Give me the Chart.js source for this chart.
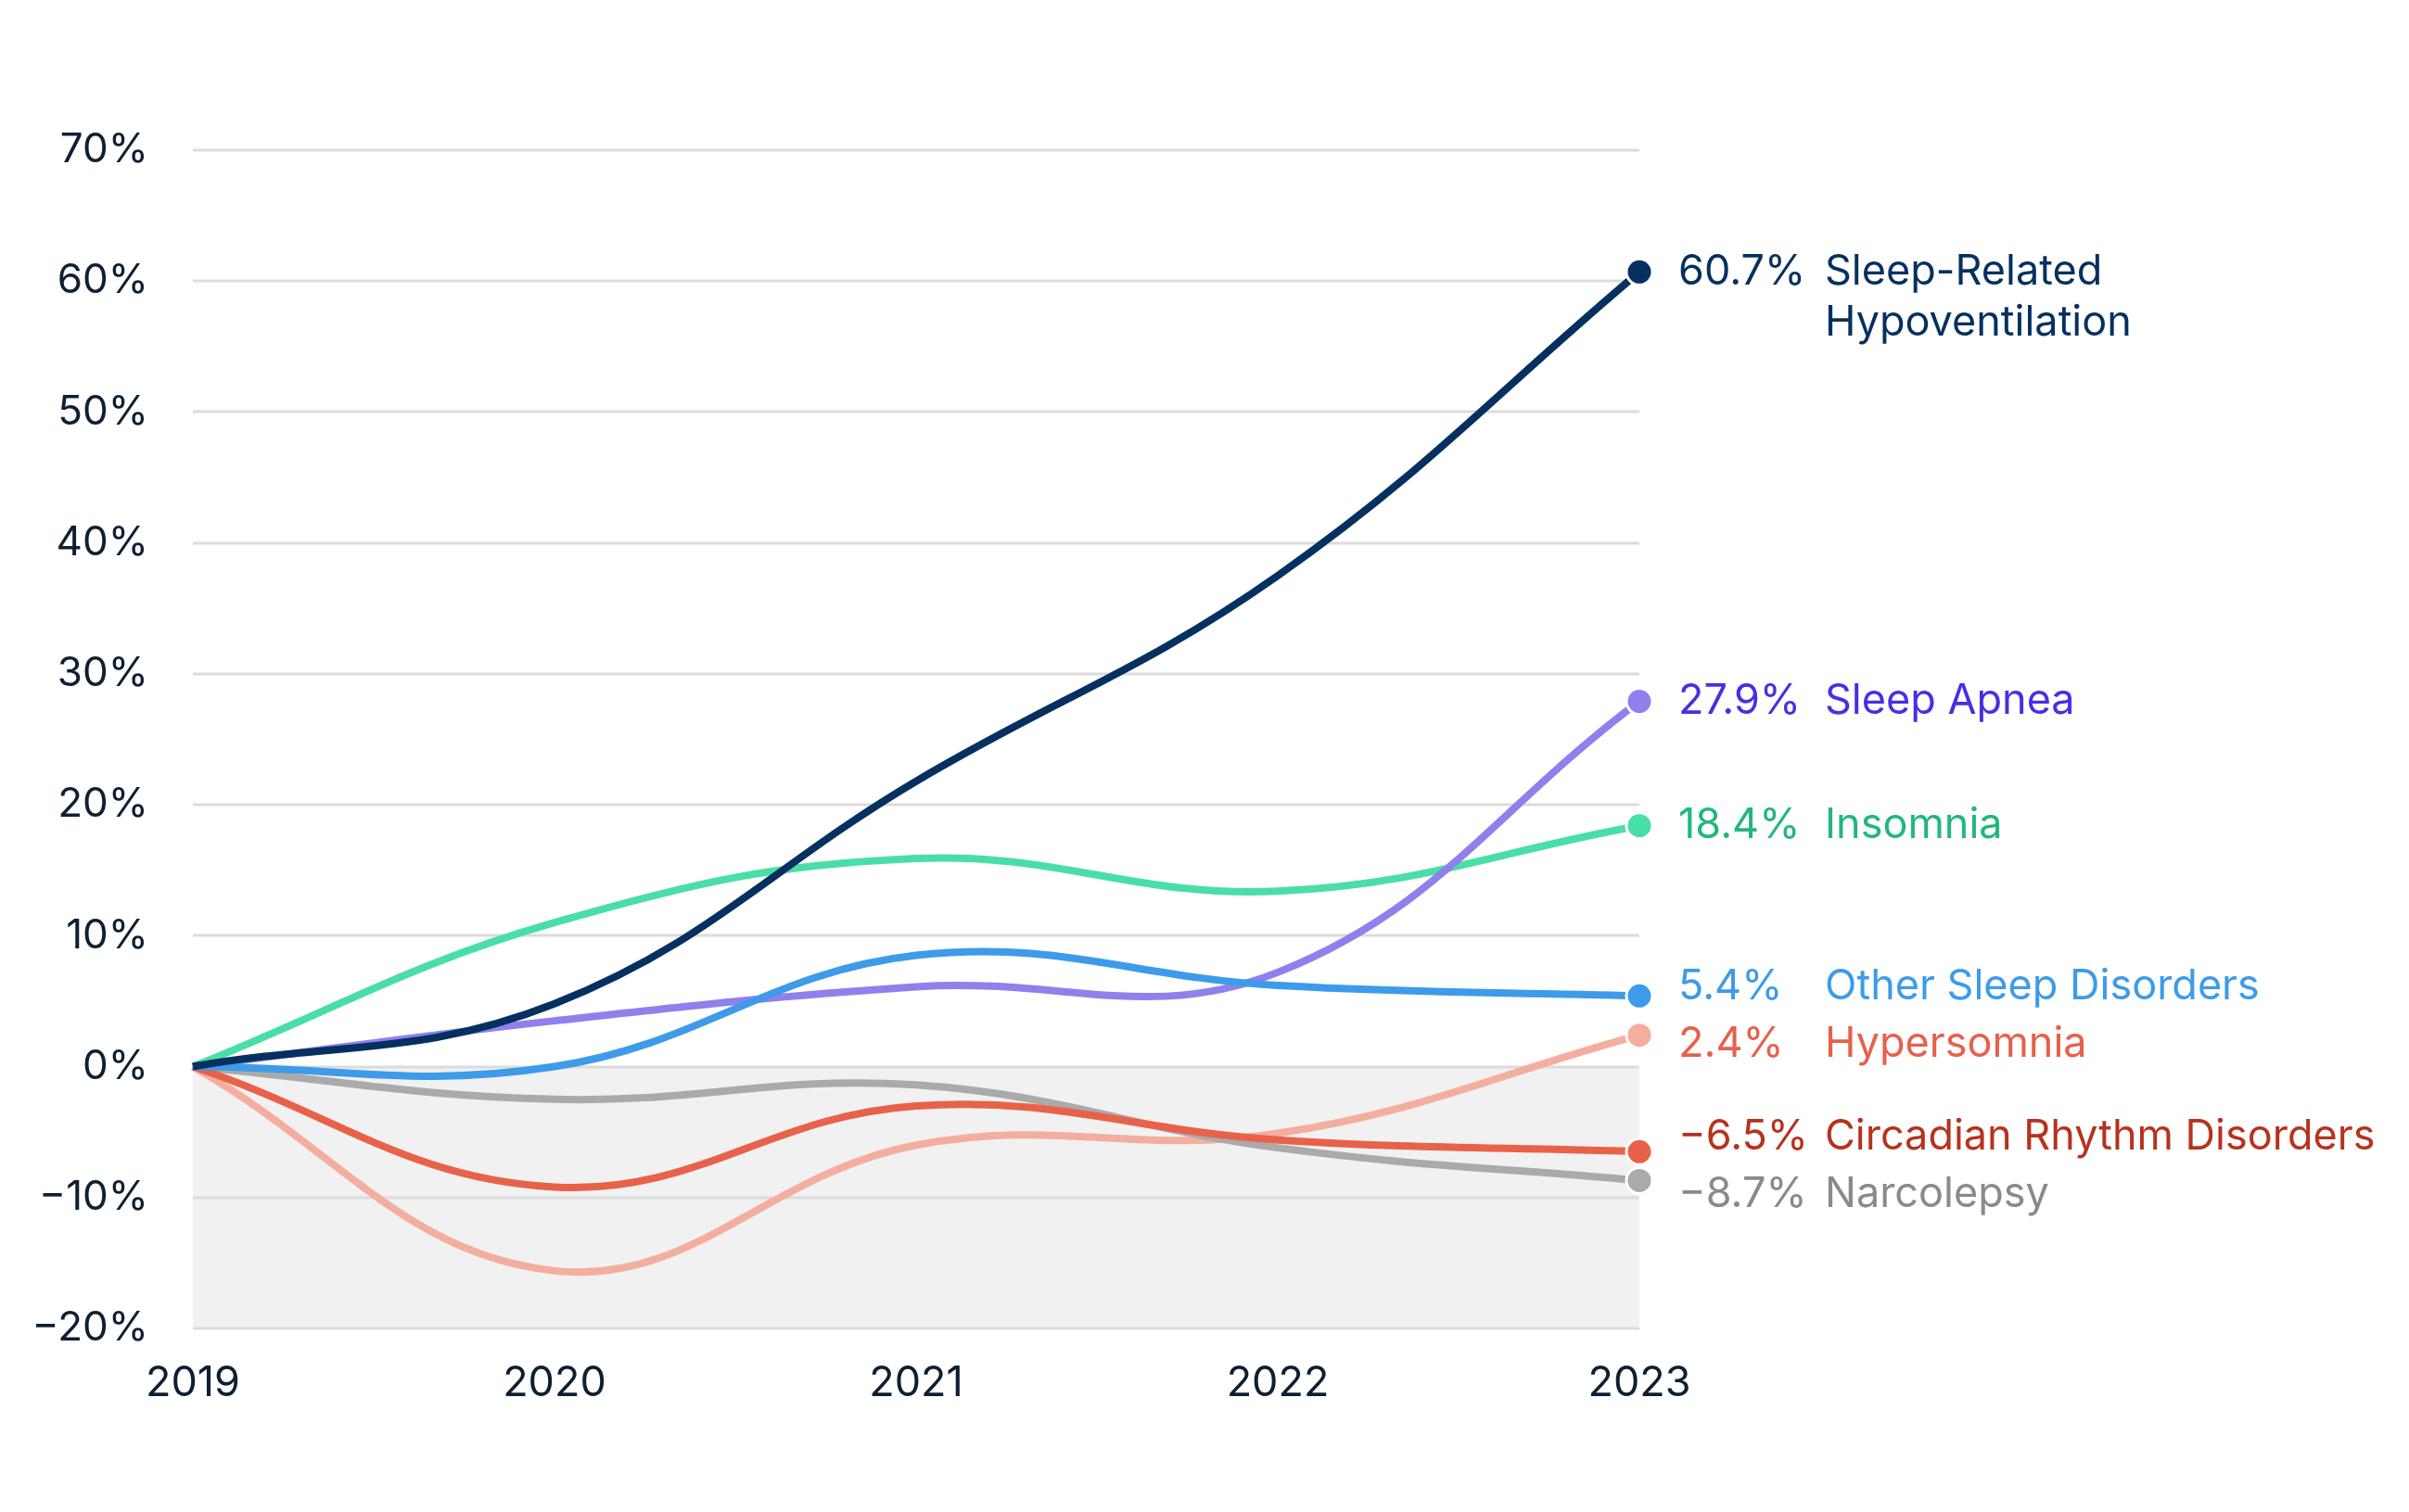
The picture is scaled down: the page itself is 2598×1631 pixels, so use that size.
<!DOCTYPE html>
<html>
<head>
<meta charset="utf-8">
<script src="https://cdn.jsdelivr.net/npm/chart.js@4.4.1/dist/chart.umd.min.js"></script>
<style>
  html, body { margin: 0; padding: 0; background: #ffffff; }
  #wrap { width: 2598px; height: 1631px; }
</style>
</head>
<body>
<div id="wrap"><canvas id="c" width="2598" height="1631"></canvas></div>
<script>
// ---- Data ----
const years = ['2019', '2020', '2021', '2022', '2023'];
const seriesNames = [
  ['Sleep-Related', 'Hypoventilation'],
  ['Other Sleep Disorders'],
  ['Sleep Apnea'],
  ['Insomnia'],
  ['Circadian Rhythm Disorders'],
  ['Narcolepsy'],
  ['Hypersomnia']
];
const hypoventilation = [0, 4.8, 21.8, 37.5, 60.7];
const otherDisorders  = [0, 0.0, 8.5, 6.2, 5.4];
const sleepApnea      = [0, 3.5, 6.1, 7.2, 27.9];
const insomnia        = [0, 11.0, 15.9, 13.4, 18.4];
const circadian       = [0, -9.2, -3.0, -5.6, -6.5];
const narcolepsy      = [0, -2.5, -1.4, -6.2, -8.7];
const hypersomnia     = [0, -15.6, -6.0, -5.1, 2.4];
const yTickValues = [-20, -10, 0, 10, 20, 30, 40, 50, 60, 70];

const seriesValues = [hypoventilation, otherDisorders, sleepApnea, insomnia, circadian, narcolepsy, hypersomnia];
const lineColors = ['#05305f', '#3d9be9', '#9080ec', '#4adea7', '#e8624a', '#aaaaaa', '#f3ae9f'];
const textColors = ['#05305f', '#3d9be9', '#4a2de6', '#22b67d', '#b7321e', '#8a8a8a', '#e8604a'];

const FONT = 'Inter, "Noto Sans", sans-serif';
const fmt = v => (v < 0 ? '\u2212' + Math.abs(v).toFixed(1) : v.toFixed(1)) + '%';

const shadePlugin = {
  id: 'shade',
  beforeDatasetsDraw(chart) {
    const { ctx, chartArea, scales } = chart;
    const y0 = scales.y.getPixelForValue(0);
    ctx.save();
    ctx.fillStyle = '#f1f1f1';
    ctx.fillRect(chartArea.left, y0, chartArea.right - chartArea.left, chartArea.bottom - y0);
    ctx.restore();
  }
};

const gridRedraw = {
  id: 'gridRedraw',
  beforeDatasetsDraw(chart) {
    const { ctx, chartArea, scales } = chart;
    ctx.save();
    ctx.strokeStyle = '#dcdcdc';
    ctx.lineWidth = 3;
    scales.y.ticks.forEach(t => {
      const y = Math.round(scales.y.getPixelForValue(t.value));
      ctx.beginPath();
      ctx.moveTo(chartArea.left, y);
      ctx.lineTo(chartArea.right, y);
      ctx.stroke();
    });
    ctx.restore();
  }
};

const endLabels = {
  id: 'endLabels',
  afterDatasetsDraw(chart) {
    const { ctx } = chart;
    const items = chart.data.datasets.map((ds, i) => {
      const meta = chart.getDatasetMeta(i);
      const pt = meta.data[meta.data.length - 1];
      return { i, y: pt.y, ly: pt.y, x: pt.x, v: ds.data[ds.data.length - 1] };
    }).sort((a, b) => a.y - b.y);
    const gap = 62;
    for (let k = 0; k < 60; k++) {
      for (let j = 1; j < items.length; j++) {
        const d = items[j].ly - items[j - 1].ly;
        if (d < gap) {
          const o = (gap - d) / 2;
          items[j - 1].ly -= o;
          items[j].ly += o;
        }
      }
    }
    ctx.save();
    ctx.font = '400 45px ' + FONT;
    ctx.textBaseline = 'middle';
    ctx.textAlign = 'left';
    items.forEach(it => {
      const color = textColors[it.i];
      ctx.fillStyle = color;
      const xv = it.x + 42;
      const xn = it.x + 200;
      ctx.fillText(fmt(it.v), xv, it.ly);
      const lines = seriesNames[it.i];
      lines.forEach((ln, li) => ctx.fillText(ln, xn, it.ly + li * 55));
    });
    ctx.restore();
  }
};

const datasets = seriesValues.map((vals, i) => ({
  label: seriesNames[i].join(' '),
  data: vals,
  borderColor: lineColors[i],
  backgroundColor: lineColors[i],
  borderWidth: 8,
  tension: 0.4,
  fill: false,
  clip: false,
  pointRadius: ctx => ctx.dataIndex === vals.length - 1 ? 14 : 0,
  pointHoverRadius: 0,
  pointBackgroundColor: lineColors[i],
  pointBorderColor: '#ffffff',
  pointBorderWidth: 3
}));

new Chart(document.getElementById('c'), {
  type: 'line',
  data: { labels: years, datasets },
  options: {
    responsive: false,
    animation: false,
    events: [],
    layout: { padding: { top: 162, right: 830, bottom: 0, left: 0 } },
    plugins: { legend: { display: false }, tooltip: { enabled: false } },
    scales: {
      x: {
        offset: false,
        grid: { display: false, drawTicks: false },
        border: { display: false },
        ticks: { color: '#0d1f33', font: { family: FONT, size: 45 }, padding: 32, maxRotation: 0, autoSkip: false },
        afterFit(s) { s.height = 198; }
      },
      y: {
        min: -20, max: 70,
        afterBuildTicks(s) { s.ticks = yTickValues.map(v => ({ value: v })); },
        grid: { display: false, drawTicks: false },
        border: { display: false },
        ticks: {
          color: '#0d1f33', font: { family: FONT, size: 44 }, padding: 48,
          callback: v => (v < 0 ? '\u2212' + Math.abs(v) : v) + '%'
        },
        afterFit(s) { s.width = 208; }
      }
    }
  },
  plugins: [shadePlugin, gridRedraw, endLabels]
});
</script>
</body>
</html>
